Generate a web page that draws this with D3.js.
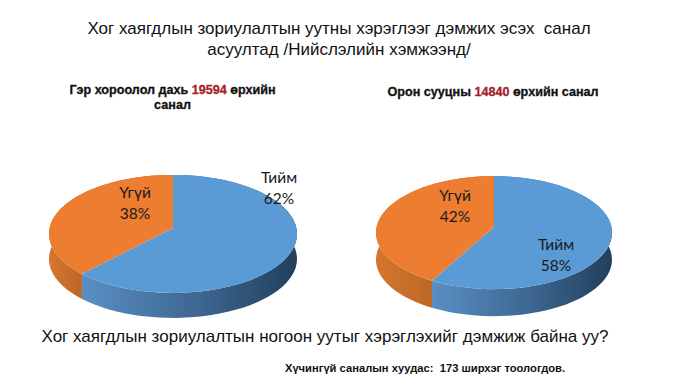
<!DOCTYPE html>
<html>

<head>
  <meta charset='utf-8'>
  <title>Санал асуулга</title>
  <script type='text/javascript' src='https://cdn.jsdelivr.net/npm/d3@7'></script>
  <style>
    html, body { margin: 0; padding: 0; background: #fff; }
    svg { display: block; }
  </style>
</head>

<body>
  <script type='text/javascript'>
    const categories = ['Тийм', 'Үгүй'];
    const gerValues = [62, 38];
    const oronValues = [58, 42];
    const titleLines = ['Хог хаягдлын зориулалтын уутны хэрэглээг дэмжих эсэх  санал', 'асуултад /Нийслэлийн хэмжээнд/'];
    const question = 'Хог хаягдлын зориулалтын ногоон уутыг хэрэглэхийг дэмжиж байна уу?';
    const footnote = 'Хүчингүй саналын хуудас:  173 ширхэг тоологдов.';

    const width = 678;
    const height = 381;
    const topColors = ['#5b9bd5', '#ed7d31'];

    const svg = d3.select('body').append('svg')
      .attr('width', width)
      .attr('height', height)
      .attr('viewBox', `0 0 ${width} ${height}`)
      .style('font-family', '"Liberation Sans", Arial, sans-serif');

    const defs = svg.append('defs');

    // tilted disc: k is the perspective, the centre of the pie sits above the middle of the ellipse
    function drawPie(id, values, o) {
      const g = svg.append('g').attr('id', id);
      const k = o.k;
      const sx = o.rx * Math.sqrt(1 - k * k);
      const sy = o.ry * (1 - k * k);
      const px = d3.scaleLinear().domain([0, 1]).range([o.cx, o.cx + sx]);
      const py = d3.scaleLinear().domain([0, 1]).range([o.cy, o.cy + sy]);
      const project = a => {
        const w = 1 + k * Math.cos(a);
        return [px(Math.sin(a) / w), py(-Math.cos(a) / w)];
      };
      const line = d3.line();
      const arcs = d3.pie().sort(null).startAngle(0)(values);
      const sample = d => d3.range(0, 61).map(i => d.startAngle + (d.endAngle - d.startAngle) * i / 60);

      // gradients on the wall
      const wallStops = [
        [['0', '#5a8fc4'], ['0.55', '#3d6690'], ['1', '#223f5c']],
        [['0', '#d4762f'], ['1', '#bd6726']]
      ];
      const wallRange = [
        [project(arcs[0].endAngle)[0], o.cx + o.rx],
        [o.cx - o.rx, project(arcs[1].startAngle)[0]]
      ];
      arcs.forEach((d, i) => {
        const gr = defs.append('linearGradient')
          .attr('id', `${id}-wall-${i}`)
          .attr('gradientUnits', 'userSpaceOnUse')
          .attr('x1', wallRange[i][0]).attr('x2', wallRange[i][1])
          .attr('y1', 0).attr('y2', 0);
        wallStops[i].forEach(s => gr.append('stop').attr('offset', s[0]).attr('stop-color', s[1]));
      });

      g.selectAll('path.wall')
        .data(arcs)
        .join('path')
        .attr('class', 'wall')
        .attr('fill', (d, i) => `url(#${id}-wall-${i})`)
        .attr('d', d => {
          const pts = sample(d).map(project);
          const low = pts.map(p => [p[0], p[1] + o.depth]).reverse();
          return line(pts.concat(low)) + 'Z';
        });

      g.selectAll('path.top')
        .data(arcs)
        .join('path')
        .attr('class', 'top')
        .attr('fill', (d, i) => topColors[i])
        .attr('d', d => line([[o.cx, o.cy]].concat(sample(d).map(project))) + 'Z');

      const labels = g.selectAll('g.label')
        .data(arcs)
        .join('g')
        .attr('class', 'label')
        .attr('transform', (d, i) => `translate(${o.labels[i][0]},${o.labels[i][1]})`)
        .attr('text-anchor', 'middle')
        .attr('font-family', 'Lato, "Open Sans", sans-serif')
        .attr('font-size', 15.5)
        .attr('fill', '#1a1a1a');
      labels.append('text').text((d, i) => categories[i]);
      labels.append('text').attr('y', 21).text(d => `${d.data}%`);
    }

    function drawSubtitle(lines, cx, y, size) {
      const t = svg.append('g')
        .attr('text-anchor', 'middle')
        .attr('font-weight', 'bold')
        .attr('font-size', size)
        .attr('fill', '#111')
        .attr('stroke-width', 0.3);
      lines.forEach((parts, i) => {
        const line = t.append('text').attr('x', cx).attr('y', y + i * 14.5);
        parts.forEach(p => line.append('tspan')
          .attr('fill', p[1] || '#111')
          .attr('stroke', p[1] || '#111')
          .text(p[0]));
      });
    }

    svg.append('g')
      .attr('text-anchor', 'middle')
      .attr('font-size', 17)
      .attr('fill', '#111')
      .selectAll('text')
      .data(titleLines)
      .join('text')
      .attr('x', 339)
      .attr('y', (d, i) => 34 + i * 21)
      .style('white-space', 'pre')
      .text(d => d);

    drawSubtitle([
      [['Гэр хороолол дахь '], ['19594', '#a5222a'], [' өрхийн']],
      [['санал']]
    ], 172.5, 94, 12.6);
    drawSubtitle([
      [['Орон сууцны '], ['14840', '#a5222a'], [' өрхийн санал']]
    ], 493, 96, 12.6);

    drawPie('ger', gerValues, {
      cx: 173, cy: 228, rx: 124, ry: 59, k: 0.1, depth: 25,
      labels: [[279, 183], [135, 198]]
    });
    drawPie('oron', oronValues, {
      cx: 494, cy: 227, rx: 118, ry: 56.5, k: 0.1, depth: 27,
      labels: [[556, 250], [455, 201]]
    });

    svg.append('text')
      .attr('x', 325)
      .attr('y', 342)
      .attr('text-anchor', 'middle')
      .attr('font-size', 17)
      .attr('fill', '#111')
      .text(question);

    svg.append('text')
      .attr('x', 425)
      .attr('y', 372)
      .attr('text-anchor', 'middle')
      .attr('font-size', 11.2)
      .attr('font-weight', 'bold')
      .attr('fill', '#111')
      .style('white-space', 'pre')
      .text(footnote);
  </script>
</body>

</html>
